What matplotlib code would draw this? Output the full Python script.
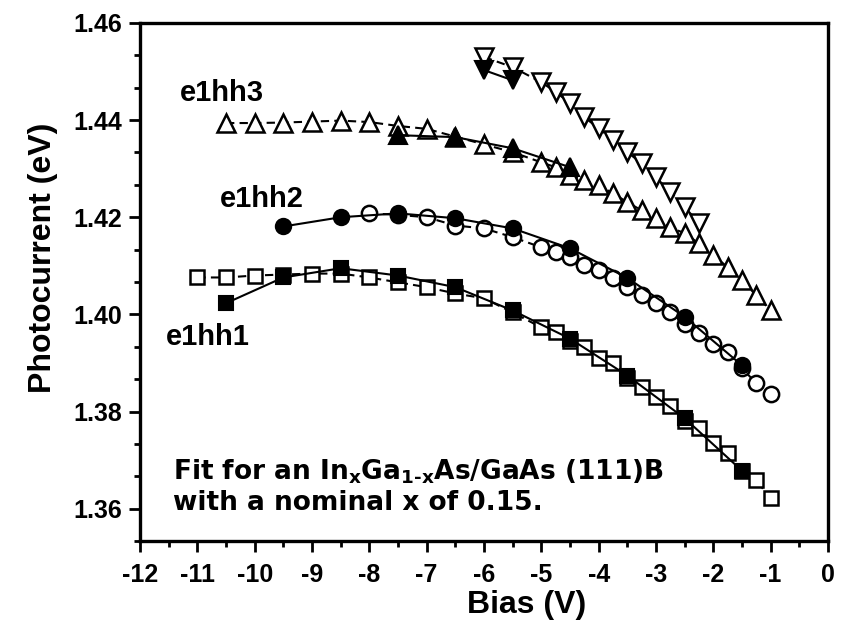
import matplotlib
matplotlib.use('Agg')
import matplotlib.pyplot as plt
from matplotlib.ticker import MultipleLocator, AutoMinorLocator, FormatStrFormatter

# --- data (bias in V, energy in eV) ---
hh1_open_x = [-11, -10.5, -10, -9.5, -9, -8.5, -8, -7.5, -7, -6.5, -6, -5.5,
              -5, -4.75, -4.5, -4.25, -4, -3.75, -3.5, -3.25, -3, -2.75, -2.5,
              -2.25, -2, -1.75, -1.5, -1.25, -1]
hh1_open_y = [1.4076, 1.4076, 1.4080, 1.4082, 1.4084, 1.4084, 1.4076, 1.4066,
              1.4056, 1.4043, 1.4033, 1.4004, 1.3973, 1.3963, 1.3946, 1.3932,
              1.3911, 1.3899, 1.3870, 1.3850, 1.3829, 1.3812, 1.3781, 1.3767,
              1.3736, 1.3715, 1.3678, 1.3658, 1.3621]
hh1_fill_x = [-10.5, -9.5, -8.5, -7.5, -6.5, -5.5, -4.5, -3.5, -2.5, -1.5]
hh1_fill_y = [1.4023, 1.4076, 1.4095, 1.4080, 1.4056, 1.4008, 1.3950, 1.3874,
              1.3786, 1.3678]

hh2_open_x = [-8, -7.5, -7, -6.5, -6, -5.5, -5, -4.75, -4.5, -4.25, -4, -3.75,
              -3.5, -3.25, -3, -2.75, -2.5, -2.25, -2, -1.75, -1.5, -1.25, -1]
hh2_open_y = [1.4208, 1.4205, 1.4200, 1.4183, 1.4177, 1.4159, 1.4138, 1.4128,
              1.4118, 1.4101, 1.4091, 1.4074, 1.4056, 1.4039, 1.4023, 1.4004,
              1.3981, 1.3961, 1.3940, 1.3922, 1.3889, 1.3858, 1.3837]
hh2_fill_x = [-9.5, -8.5, -7.5, -6.5, -5.5, -4.5, -3.5, -2.5, -1.5]
hh2_fill_y = [1.4181, 1.4200, 1.4208, 1.4198, 1.4177, 1.4136, 1.4075, 1.3995,
              1.3895]

hh3_open_x = [-10.5, -10, -9.5, -9, -8.5, -8, -7.5, -7, -6.5, -6, -5.5, -5,
              -4.75, -4.5, -4.25, -4, -3.75, -3.5, -3.25, -3, -2.75, -2.5,
              -2.25, -2, -1.75, -1.5, -1.25, -1]
hh3_open_y = [1.4394, 1.4394, 1.4395, 1.4397, 1.4399, 1.4396, 1.4388, 1.4382,
              1.4366, 1.4350, 1.4334, 1.4313, 1.4303, 1.4287, 1.4276, 1.4266,
              1.4249, 1.4231, 1.4214, 1.4198, 1.4179, 1.4167, 1.4146, 1.4122,
              1.4097, 1.4070, 1.4039, 1.4008]
hh3_fill_x = [-7.5, -6.5, -5.5, -4.5]
hh3_fill_y = [1.4369, 1.4365, 1.4342, 1.4303]

hh4_open_x = [-6, -5.5, -5, -4.75, -4.5, -4.25, -4, -3.75, -3.5, -3.25, -3,
              -2.75, -2.5, -2.25]
hh4_open_y = [1.4530, 1.4509, 1.4478, 1.4458, 1.4435, 1.4406, 1.4383, 1.4359,
              1.4334, 1.4311, 1.4282, 1.4252, 1.4221, 1.4188]
hh4_fill_x = [-6, -5.5]
hh4_fill_y = [1.4503, 1.4482]

plt.rcParams['font.family'] = 'Liberation Sans'
plt.rcParams['font.weight'] = 'bold'
plt.rcParams['axes.unicode_minus'] = False
plt.rcParams['mathtext.fontset'] = 'custom'
plt.rcParams['mathtext.rm'] = 'DejaVu Sans:bold'
plt.rcParams['mathtext.default'] = 'rm'

fig = plt.figure(figsize=(8.46, 6.26), dpi=100)
ax = fig.add_axes([140 / 846, 1 - 541 / 626, 688 / 846, 518 / 626])

dash = (0, (4, 2.5))
open_kw = dict(color='black', mfc='white', mec='black', mew=1.8, lw=1.5, ls=dash)
fill_kw = dict(color='black', mfc='black', mec='black', mew=1.5, lw=1.5, ls='-')

# open (dashed) series underneath, filled (solid) series on top
ax.plot(hh1_open_x, hh1_open_y, marker='s', ms=10, zorder=3, **open_kw)
ax.plot(hh1_fill_x, hh1_fill_y, marker='s', ms=10, zorder=4, **fill_kw)
ax.plot(hh2_open_x, hh2_open_y, marker='o', ms=11, zorder=3, **open_kw)
ax.plot(hh2_fill_x, hh2_fill_y, marker='o', ms=11, zorder=4, **fill_kw)
ax.plot(hh3_open_x, hh3_open_y, marker='^', ms=13, zorder=3, **open_kw)
ax.plot(hh3_fill_x, hh3_fill_y, marker='^', ms=13, zorder=4, **fill_kw)
ax.plot(hh4_open_x, hh4_open_y, marker='v', ms=13, zorder=3, **open_kw)
ax.plot(hh4_fill_x, hh4_fill_y, marker='v', ms=13, zorder=4, **fill_kw)

ax.text(-10.57, 1.4456, 'e1hh3', fontsize=21, ha='center', va='center')
ax.text(-9.87, 1.4237, 'e1hh2', fontsize=21, ha='center', va='center')
ax.text(-10.81, 1.3953, 'e1hh1', fontsize=21, ha='center', va='center')

ax.text(-11.42, 1.3705,
        'Fit for an In$_{x}$Ga$_{1\u2010x}$As/GaAs (111)B\nwith a nominal x of 0.15.',
        fontsize=19, family='DejaVu Sans', weight='bold', ha='left', va='top',
        linespacing=1.2)

ax.set_xlim(-12, 0)
ax.set_ylim(1.36 - 0.02 / 3, 1.46)
ax.xaxis.set_major_locator(MultipleLocator(1))
ax.xaxis.set_minor_locator(AutoMinorLocator(2))
ax.yaxis.set_major_locator(MultipleLocator(0.02))
ax.yaxis.set_minor_locator(AutoMinorLocator(3))
ax.xaxis.set_major_formatter(FormatStrFormatter('%d'))
ax.yaxis.set_major_formatter(FormatStrFormatter('%.2f'))

for s in ax.spines.values():
    s.set_linewidth(2.4)
ax.tick_params(which='major', direction='out', length=8, width=2,
               labelsize=18, pad=5)
ax.tick_params(which='minor', direction='out', length=4.5, width=2)
ax.tick_params(axis='x', which='major', pad=8)

ax.set_xlabel('Bias (V)', fontsize=23, fontweight='bold')
ax.set_ylabel('Photocurrent (eV)', fontsize=23, fontweight='bold')
ax.xaxis.set_label_coords(0.5625, -0.124)
ax.xaxis.label.set_va('center')
ax.yaxis.set_label_coords(-0.141, 0.546)
ax.yaxis.label.set_va('center')

fig.savefig('out.png', dpi=100)
